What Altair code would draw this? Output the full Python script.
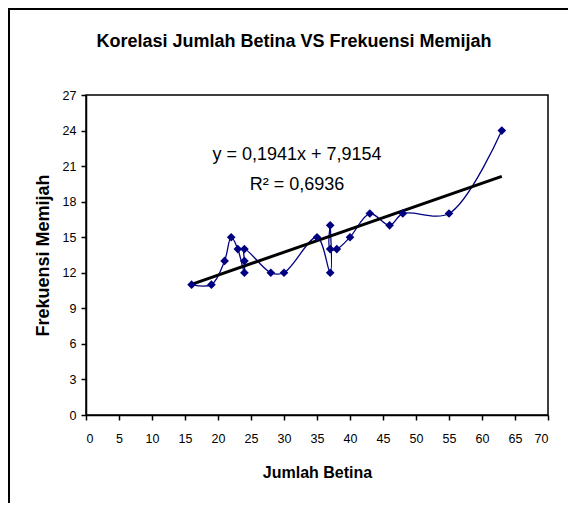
import altair as alt
import pandas as pd

# Data (in plotting order)
jumlah_betina = [16, 19, 21, 22, 23, 24, 24, 24, 28, 30, 35, 37, 37, 37, 38, 40, 43, 46, 48, 55, 63]
frekuensi = [11, 11, 13, 15, 14, 12, 13, 14, 12, 12, 15, 12, 16, 14, 14, 15, 17, 16, 17, 17, 24]
x_ticks = list(range(0, 71, 5))
y_ticks = list(range(0, 28, 3))
title_text = "Korelasi Jumlah Betina VS Frekuensi Memijah"
eq_line1 = "y = 0,1941x + 7,9154"
eq_line2 = "R² = 0,6936"

df = pd.DataFrame({"x": jumlah_betina, "y": frekuensi, "idx": list(range(len(jumlah_betina)))})

FONT = "Liberation Sans, Arial"
NAVY = "#000080"

xenc = alt.X("x:Q", scale=alt.Scale(domain=[0, 70], nice=False, zero=True),
             axis=alt.Axis(values=x_ticks, title="Jumlah Betina", grid=False,
                           labelOverlap=False, titleFontSize=16))
yenc = alt.Y("y:Q", scale=alt.Scale(domain=[0, 27], nice=False),
             axis=alt.Axis(values=y_ticks, title="Frekuensi Memijah", grid=False,
                           labelOverlap=False, titleFontSize=18))

base = alt.Chart(df)

line = base.mark_line(color=NAVY, strokeWidth=1.3, interpolate="catmull-rom").encode(
    x=xenc, y=yenc, order="idx:Q")
points = base.mark_point(shape="diamond", filled=True, color=NAVY, size=75, opacity=1).encode(
    x=xenc, y=yenc)
trend = base.transform_regression("x", "y", extent=[16, 63]).mark_line(
    color="black", strokeWidth=3).encode(x=xenc, y=yenc)

eq1 = alt.Chart(pd.DataFrame({"t": [eq_line1]})).mark_text(
    font=FONT, fontSize=18, color="black").encode(text="t:N", x=alt.value(211), y=alt.value(60))
eq2 = alt.Chart(pd.DataFrame({"t": [eq_line2]})).mark_text(
    font=FONT, fontSize=18, color="black").encode(text="t:N", x=alt.value(211), y=alt.value(90))

title = alt.Chart(pd.DataFrame({"t": [title_text]})).mark_text(
    font=FONT, fontSize=18, fontWeight="bold", color="black", baseline="alphabetic").encode(
    text="t:N", x=alt.value(208), y=alt.value(-48))

frame = alt.Chart(pd.DataFrame({"a": [0]})).mark_rect(
    fillOpacity=0, stroke="black", strokeWidth=2).encode(
    x=alt.value(-77), x2=alt.value(2000), y=alt.value(-86), y2=alt.value(2000))

chart = alt.layer(frame, line, trend, points, eq1, eq2, title).properties(
    width=462, height=320,
    autosize=alt.AutoSizeParams(type="none"),
    padding={"left": 78, "top": 87, "right": 20, "bottom": 88},
).configure_view(stroke="black", strokeWidth=1.5).configure_axis(
    labelFont=FONT, labelFontSize=12.5, labelColor="black",
    titleFont=FONT, titleFontWeight="bold", titleColor="black",
    domainColor="black", tickColor="black", tickSize=5, domainWidth=1.5, tickWidth=1.5,
).configure_axisX(labelPadding=12, titlePadding=20).configure_axisY(
    labelPadding=5, titlePadding=10)

chart.save("out.html", embed_options={"renderer": "svg", "actions": False})
